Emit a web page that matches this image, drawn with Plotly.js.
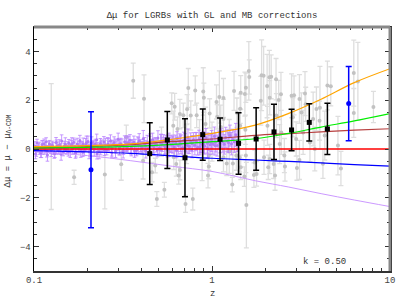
<!DOCTYPE html>
<html>
<head>
<meta charset="utf-8">
<script src="https://cdn.plot.ly/plotly-3.0.1.min.js"></script>
<style>html,body{margin:0;padding:0;background:#fff;}#chart{width:407px;height:301px;}</style>
</head>
<body>
<div id="chart"></div>
<script>
// ---- GRB (gray) data ----
var grbZ = [0.125,0.168,0.25,0.309,0.33,0.361,0.415,0.41,0.48,0.49,0.54,0.594,0.617,0.61,0.65,0.66,0.71,0.78,0.736,0.805,
0.893,0.90,0.725,0.69,0.82,0.97,1.06,1.10,1.16,1.07,1.33,1.45,1.53,1.55,1.61,1.62,1.38,1.44,1.90,2.04,
2.15,2.29,2.37,2.44,2.11,2.89,3.33,3.36,4.04,4.65,6.6,6.26,6.26,8.07,0.95,0.96,1.16,1.30,1.31,1.45,
1.52,1.56,1.72,1.74,1.43,2.07,2.26,2.57,3.0,3.1,1.78,1.96,2.11,2.22,0.606,0.64,0.66,0.76,0.92,1.16,
1.25,1.44,1.54,1.21,1.37,1.55,0.96,0.63,0.46,1.88,1.95,2.10,2.05,2.30,2.40,2.45,2.55,2.80,2.85,2.97,
3.10,3.18,3.25,3.55,3.70,3.78,3.86,4.02,4.30,4.45,5.10,5.3,0.52,0.57,0.72,0.85,0.88,1.0,1.12,1.25,4.2];
var grbMu = [0.10,-1.16,-1.05,-0.63,0.48,2.80,2.06,-0.48,-0.68,-2.05,-1.67,1.87,1.73,-0.34,-1.09,-0.86,-2.25,-2.05,2.50,2.40,
2.36,2.10,1.63,1.38,1.38,1.46,1.93,2.13,2.09,1.32,2.38,2.31,2.25,2.51,3.20,2.95,1.49,1.65,3.02,2.58,
2.96,2.86,2.01,2.24,2.10,2.20,2.27,1.83,1.69,2.57,2.77,3.11,1.48,1.72,-1.09,-0.72,-0.34,-1.46,-0.59,-0.75,
-1.13,-2.30,-1.07,-0.55,-0.34,-0.75,-1.09,-0.72,-0.78,-0.45,-1.02,-0.34,-0.41,-0.61,0.95,0.82,1.43,1.37,1.02,1.23,
0.61,0.95,0.79,-0.59,-0.27,-0.27,-0.27,-0.61,-0.95,1.98,3.00,2.94,0.95,1.37,0.20,0.68,-0.27,2.18,1.30,0.41,
2.05,1.50,0.68,0.27,1.23,0.00,1.64,1.16,0.55,2.60,0.14,-0.80,0.30,-0.10,0.20,0.50,-0.40,0.30,0.90,-0.10,-0.60];
var grbErr = [2.58,0.29,1.40,0.65,0.50,0.72,0.98,0.75,0.30,0.30,0.30,0.43,0.55,0.50,0.35,0.40,0.35,0.45,0.80,0.60,
0.97,0.60,0.60,0.50,0.50,0.60,0.70,1.07,0.80,0.50,0.80,0.70,0.90,0.60,1.20,0.70,0.60,0.60,1.45,1.30,
0.90,0.85,0.80,0.90,0.70,0.80,0.90,0.70,1.70,0.80,1.60,1.35,1.00,0.64,0.50,0.50,0.60,0.30,0.50,0.50,
0.40,1.75,0.50,0.50,0.60,0.50,0.60,0.60,0.50,0.80,0.50,0.70,0.60,0.60,0.60,0.50,0.60,0.60,0.70,0.80,
0.60,0.70,0.60,0.50,0.60,0.70,0.60,0.50,0.40,1.00,1.20,1.10,0.80,0.90,0.80,0.90,0.70,0.90,0.80,0.70,
1.00,0.80,0.90,0.80,1.10,0.90,0.90,0.80,1.00,1.00,1.20,0.70,0.60,0.70,0.80,0.70,0.90,0.80,0.90,0.90,0.60];

// ---- SN (purple) data ----
var snZ = [0.101,0.103,0.104,0.107,0.109,0.111,0.112,0.115,0.117,0.118,
0.121,0.122,0.125,0.127,0.128,0.131,0.133,0.134,0.137,0.139,
0.141,0.143,0.146,0.148,0.150,0.152,0.155,0.157,0.160,0.162,
0.165,0.167,0.170,0.172,0.175,0.178,0.181,0.183,0.186,0.189,
0.192,0.195,0.198,0.201,0.204,0.207,0.211,0.214,0.218,0.221,
0.225,0.228,0.232,0.236,0.240,0.243,0.247,0.252,0.256,0.260,
0.264,0.269,0.273,0.278,0.282,0.287,0.292,0.297,0.302,0.307,
0.312,0.318,0.323,0.329,0.334,0.340,0.346,0.352,0.358,0.364,
0.370,0.377,0.383,0.390,0.397,0.404,0.411,0.418,0.425,0.433,
0.440,0.448,0.456,0.464,0.472,0.480,0.489,0.497,0.506,0.515,
0.524,0.533,0.543,0.552,0.562,0.572,0.582,0.593,0.603,0.614,
0.625,0.636,0.647,0.659,0.670,0.682,0.695,0.707,0.720,0.733,
0.746,0.759,0.773,0.787,0.801,0.815,0.830,0.845,0.860,0.876,
0.892,0.908,0.925,0.941,0.959,0.976,0.994,1.012,1.031,1.050,
1.069,1.089,1.109,1.130,1.151,1.172,1.194,1.216,1.239,1.262,
1.286,1.310,1.335,1.360,1.386,
0.102,0.106,0.110,0.114,0.119,0.124,0.130,0.136,0.142,0.149,
0.156,0.163,0.171,0.179,0.188,0.197,0.206,0.216,0.226,0.237,
0.249,0.261,0.274,0.288,0.302,0.317,0.333,0.350,0.367,0.386,
0.405,0.425,0.447,0.469,0.493,0.518,0.545,0.573,0.602,0.633,
0.665,0.699,0.735,0.773,0.812,0.854,0.897,0.943,0.991,1.040];
var snMu = [0.12,-0.08,0.25,0.03,-0.15,0.18,0.06,-0.02,0.30,-0.10,
0.09,0.21,-0.05,0.14,0.02,-0.18,0.27,0.08,-0.06,0.16,
0.04,0.33,-0.12,0.11,0.19,-0.03,0.07,0.24,-0.09,0.15,
0.01,0.28,0.10,-0.14,0.20,0.05,0.35,-0.04,0.13,0.22,
-0.07,0.17,0.09,0.31,-0.11,0.06,0.26,0.14,-0.02,0.19,
0.38,0.08,-0.10,0.23,0.12,0.04,0.29,0.16,-0.05,0.21,
0.10,0.34,0.02,0.18,0.27,-0.08,0.13,0.40,0.07,0.22,
0.15,-0.03,0.30,0.19,0.09,0.25,0.36,0.05,0.17,0.28,
0.12,-0.06,0.24,0.33,0.14,0.08,0.42,0.20,0.11,0.27,
0.03,0.31,0.18,0.37,0.09,0.23,0.15,0.45,0.06,0.26,
0.19,0.34,0.12,0.28,-0.02,0.39,0.21,0.16,0.30,0.08,
0.25,0.43,0.14,0.32,0.20,0.05,0.36,0.27,0.18,0.48,
0.11,0.29,0.22,0.38,0.15,0.33,0.07,0.41,0.26,0.19,
0.35,0.12,0.46,0.24,0.30,0.17,0.40,0.21,0.52,0.28,
0.14,0.37,0.25,0.44,0.31,0.19,0.47,0.33,0.26,0.55,
0.22,0.39,0.30,0.58,0.35,
-0.20,0.05,-0.12,0.22,-0.25,0.00,-0.16,0.13,-0.22,0.02,
-0.10,0.20,-0.18,0.07,-0.13,0.26,-0.08,0.10,-0.21,0.04,
-0.05,0.18,-0.15,0.12,0.00,-0.11,0.24,0.03,-0.07,0.15,
0.05,-0.09,0.20,0.10,-0.03,0.28,0.08,0.00,0.17,-0.06,
0.22,0.04,0.12,-0.02,0.30,0.09,0.19,0.02,0.25,0.14];
var snErr = [0.18,0.22,0.15,0.25,0.20,0.17,0.28,0.19,0.16,0.23,
0.21,0.14,0.26,0.18,0.24,0.17,0.20,0.29,0.15,0.22,
0.19,0.25,0.16,0.21,0.27,0.18,0.23,0.15,0.26,0.20,
0.22,0.17,0.28,0.19,0.24,0.16,0.21,0.30,0.18,0.23,
0.20,0.26,0.17,0.22,0.29,0.19,0.24,0.16,0.27,0.21,
0.23,0.18,0.30,0.20,0.25,0.17,0.22,0.28,0.19,0.26,
0.21,0.24,0.31,0.18,0.23,0.27,0.20,0.25,0.32,0.22,
0.26,0.19,0.24,0.29,0.21,0.27,0.23,0.33,0.20,0.25,
0.28,0.22,0.26,0.30,0.24,0.21,0.34,0.27,0.23,0.29,
0.25,0.31,0.22,0.28,0.35,0.24,0.27,0.30,0.26,0.33,
0.29,0.25,0.36,0.28,0.31,0.26,0.34,0.30,0.27,0.37,
0.32,0.28,0.35,0.30,0.38,0.29,0.33,0.36,0.31,0.34,
0.30,0.37,0.33,0.29,0.39,0.35,0.32,0.36,0.40,0.34,
0.37,0.33,0.38,0.41,0.35,0.39,0.36,0.42,0.38,0.40,
0.43,0.37,0.41,0.39,0.44,0.40,0.42,0.45,0.41,0.43,
0.46,0.42,0.44,0.47,0.45,
0.20,0.17,0.23,0.19,0.25,0.18,0.22,0.16,0.24,0.21,
0.19,0.26,0.20,0.23,0.18,0.27,0.21,0.24,0.20,0.28,
0.22,0.25,0.21,0.29,0.23,0.26,0.30,0.24,0.27,0.31,
0.25,0.28,0.32,0.26,0.29,0.33,0.28,0.31,0.34,0.30,
0.32,0.35,0.31,0.34,0.37,0.33,0.36,0.38,0.35,0.39];

// ---- model curves ----
var modelZ = [0.1,0.2,0.35,0.6,1,1.75,2.7,4.1,6.3,10];
var mOrange = [0.10,0.14,0.21,0.40,0.64,0.98,1.46,2.04,2.72,3.29];
var mGreen  = [0.04,0.07,0.11,0.19,0.30,0.42,0.64,0.90,1.15,1.45];
var mBrown  = [0.06,0.10,0.18,0.31,0.41,0.56,0.63,0.70,0.77,0.83];
var mRed    = [0,0,0,0,0,0,0,0,0,0];
var mBlue   = [-0.07,-0.12,-0.18,-0.28,-0.38,-0.45,-0.51,-0.57,-0.64,-0.70];
var mPurple = [-0.10,-0.27,-0.48,-0.71,-0.92,-1.30,-1.56,-1.83,-2.09,-2.36];

// ---- binned (black) and extreme bins (blue) ----
var binZ   = [0.447,0.561,0.705,0.887,1.11,1.41,1.77,2.23,2.80,3.52,4.45];
var binMu  = [-0.19,0.37,-0.36,0.59,0.40,0.23,0.41,0.70,0.78,1.09,0.82];
var binErr = [1.27,1.17,1.60,1.05,0.87,1.26,1.28,1.13,0.85,0.76,1.05];
var edgeZ   = [0.209,5.86];
var edgeMu  = [-0.85,1.86];
var edgeErr = [2.38,1.52];

var F = 'Liberation Mono, Courier New, monospace';

var traces = [
  {x:grbZ, y:grbMu, type:'scatter', mode:'markers',
   marker:{color:'#c2c2c2', size:4},
   error_y:{type:'data', array:grbErr, visible:true, color:'#dedede', thickness:1.3, width:2.5}},
  {x:snZ, y:snMu, type:'scatter', mode:'markers',
   marker:{color:'#b07cf5', size:3},
   error_y:{type:'data', array:snErr, visible:true, color:'rgba(185,130,255,0.8)', thickness:1, width:1.8}},
  {x:modelZ, y:mPurple, type:'scatter', mode:'lines', line:{color:'#cc99ff', width:1, shape:'spline'}},
  {x:modelZ, y:mBlue, type:'scatter', mode:'lines', line:{color:'#0000ff', width:1.2, shape:'spline'}},
  {x:modelZ, y:mRed, type:'scatter', mode:'lines', line:{color:'#ff0000', width:1.5}},
  {x:modelZ, y:mBrown, type:'scatter', mode:'lines', line:{color:'#b84040', width:1.2, shape:'spline'}},
  {x:modelZ, y:mGreen, type:'scatter', mode:'lines', line:{color:'#00ee00', width:1.2, shape:'spline'}},
  {x:modelZ, y:mOrange, type:'scatter', mode:'lines', line:{color:'#ffa500', width:1.2, shape:'spline'}},
  {x:binZ, y:binMu, type:'scatter', mode:'markers',
   marker:{color:'#000000', size:5, symbol:'square'},
   error_y:{type:'data', array:binErr, visible:true, color:'#000000', thickness:1.5, width:3}},
  {x:edgeZ, y:edgeMu, type:'scatter', mode:'markers',
   marker:{color:'#0000ff', size:5, symbol:'circle'},
   error_y:{type:'data', array:edgeErr, visible:true, color:'#0000ff', thickness:1.5, width:3}}
];

var layout = {
  width:407, height:301,
  margin:{l:34, r:17, t:27, b:30},
  paper_bgcolor:'#ffffff', plot_bgcolor:'#ffffff',
  showlegend:false,
  font:{family:F, size:9, color:'#333333'},
  title:{text:'Δμ for LGRBs with GL and MB corrections', font:{family:F, size:9, color:'#333333'},
         x:0.5, xref:'paper', xanchor:'center', y:0.95, yref:'container', yanchor:'middle'},
  xaxis:{type:'log', range:[-1,1], dtick:1, showgrid:false, zeroline:false,
         showline:true, linecolor:'#333333', linewidth:1.5, mirror:'ticks',
         ticks:'inside', ticklen:5, tickcolor:'#333333', tickwidth:1,
         tickfont:{family:F, size:9, color:'#444444'},
         minor:{ticks:'inside', ticklen:3, dtick:'D1', tickcolor:'#333333', showgrid:false}},
  yaxis:{range:[-5,5], dtick:2, showgrid:false, zeroline:false,
         showline:true, linecolor:'#000000', linewidth:1.5, mirror:'ticks',
         ticks:'inside', ticklen:5, tickcolor:'#333333', tickwidth:1,
         tickfont:{family:F, size:9, color:'#444444'},
         minor:{ticks:'inside', ticklen:3, dtick:0.5, tickcolor:'#333333', showgrid:false}},
  shapes:[
    {type:'line', xref:'paper', yref:'paper', x0:0, x1:1, y0:1, y1:1, line:{color:'#888888', width:3}},
    {type:'line', xref:'paper', yref:'paper', x0:1, x1:1, y0:0, y1:1, line:{color:'#888888', width:3}}
  ],
  annotations:[
    {text:'k = 0.50', xref:'paper', yref:'paper', x:0.815, y:0.037, showarrow:false,
     font:{family:F, size:9, color:'#333333'}, xanchor:'center', yanchor:'middle'},
    {text:'z', xref:'paper', yref:'paper', x:0.5, y:-0.094, showarrow:false,
     font:{family:F, size:9, color:'#333333'}, xanchor:'center', yanchor:'middle'},
    {text:'Δμ = μ − μ<sub>Λ-CDM</sub>', xref:'paper', yref:'paper', x:-0.073, y:0.49,
     showarrow:false, textangle:-90, font:{family:F, size:9, color:'#333333'},
     xanchor:'center', yanchor:'middle'}
  ]
};

Plotly.newPlot('chart', traces, layout, {staticPlot:true, displayModeBar:false});
</script>
</body>
</html>
